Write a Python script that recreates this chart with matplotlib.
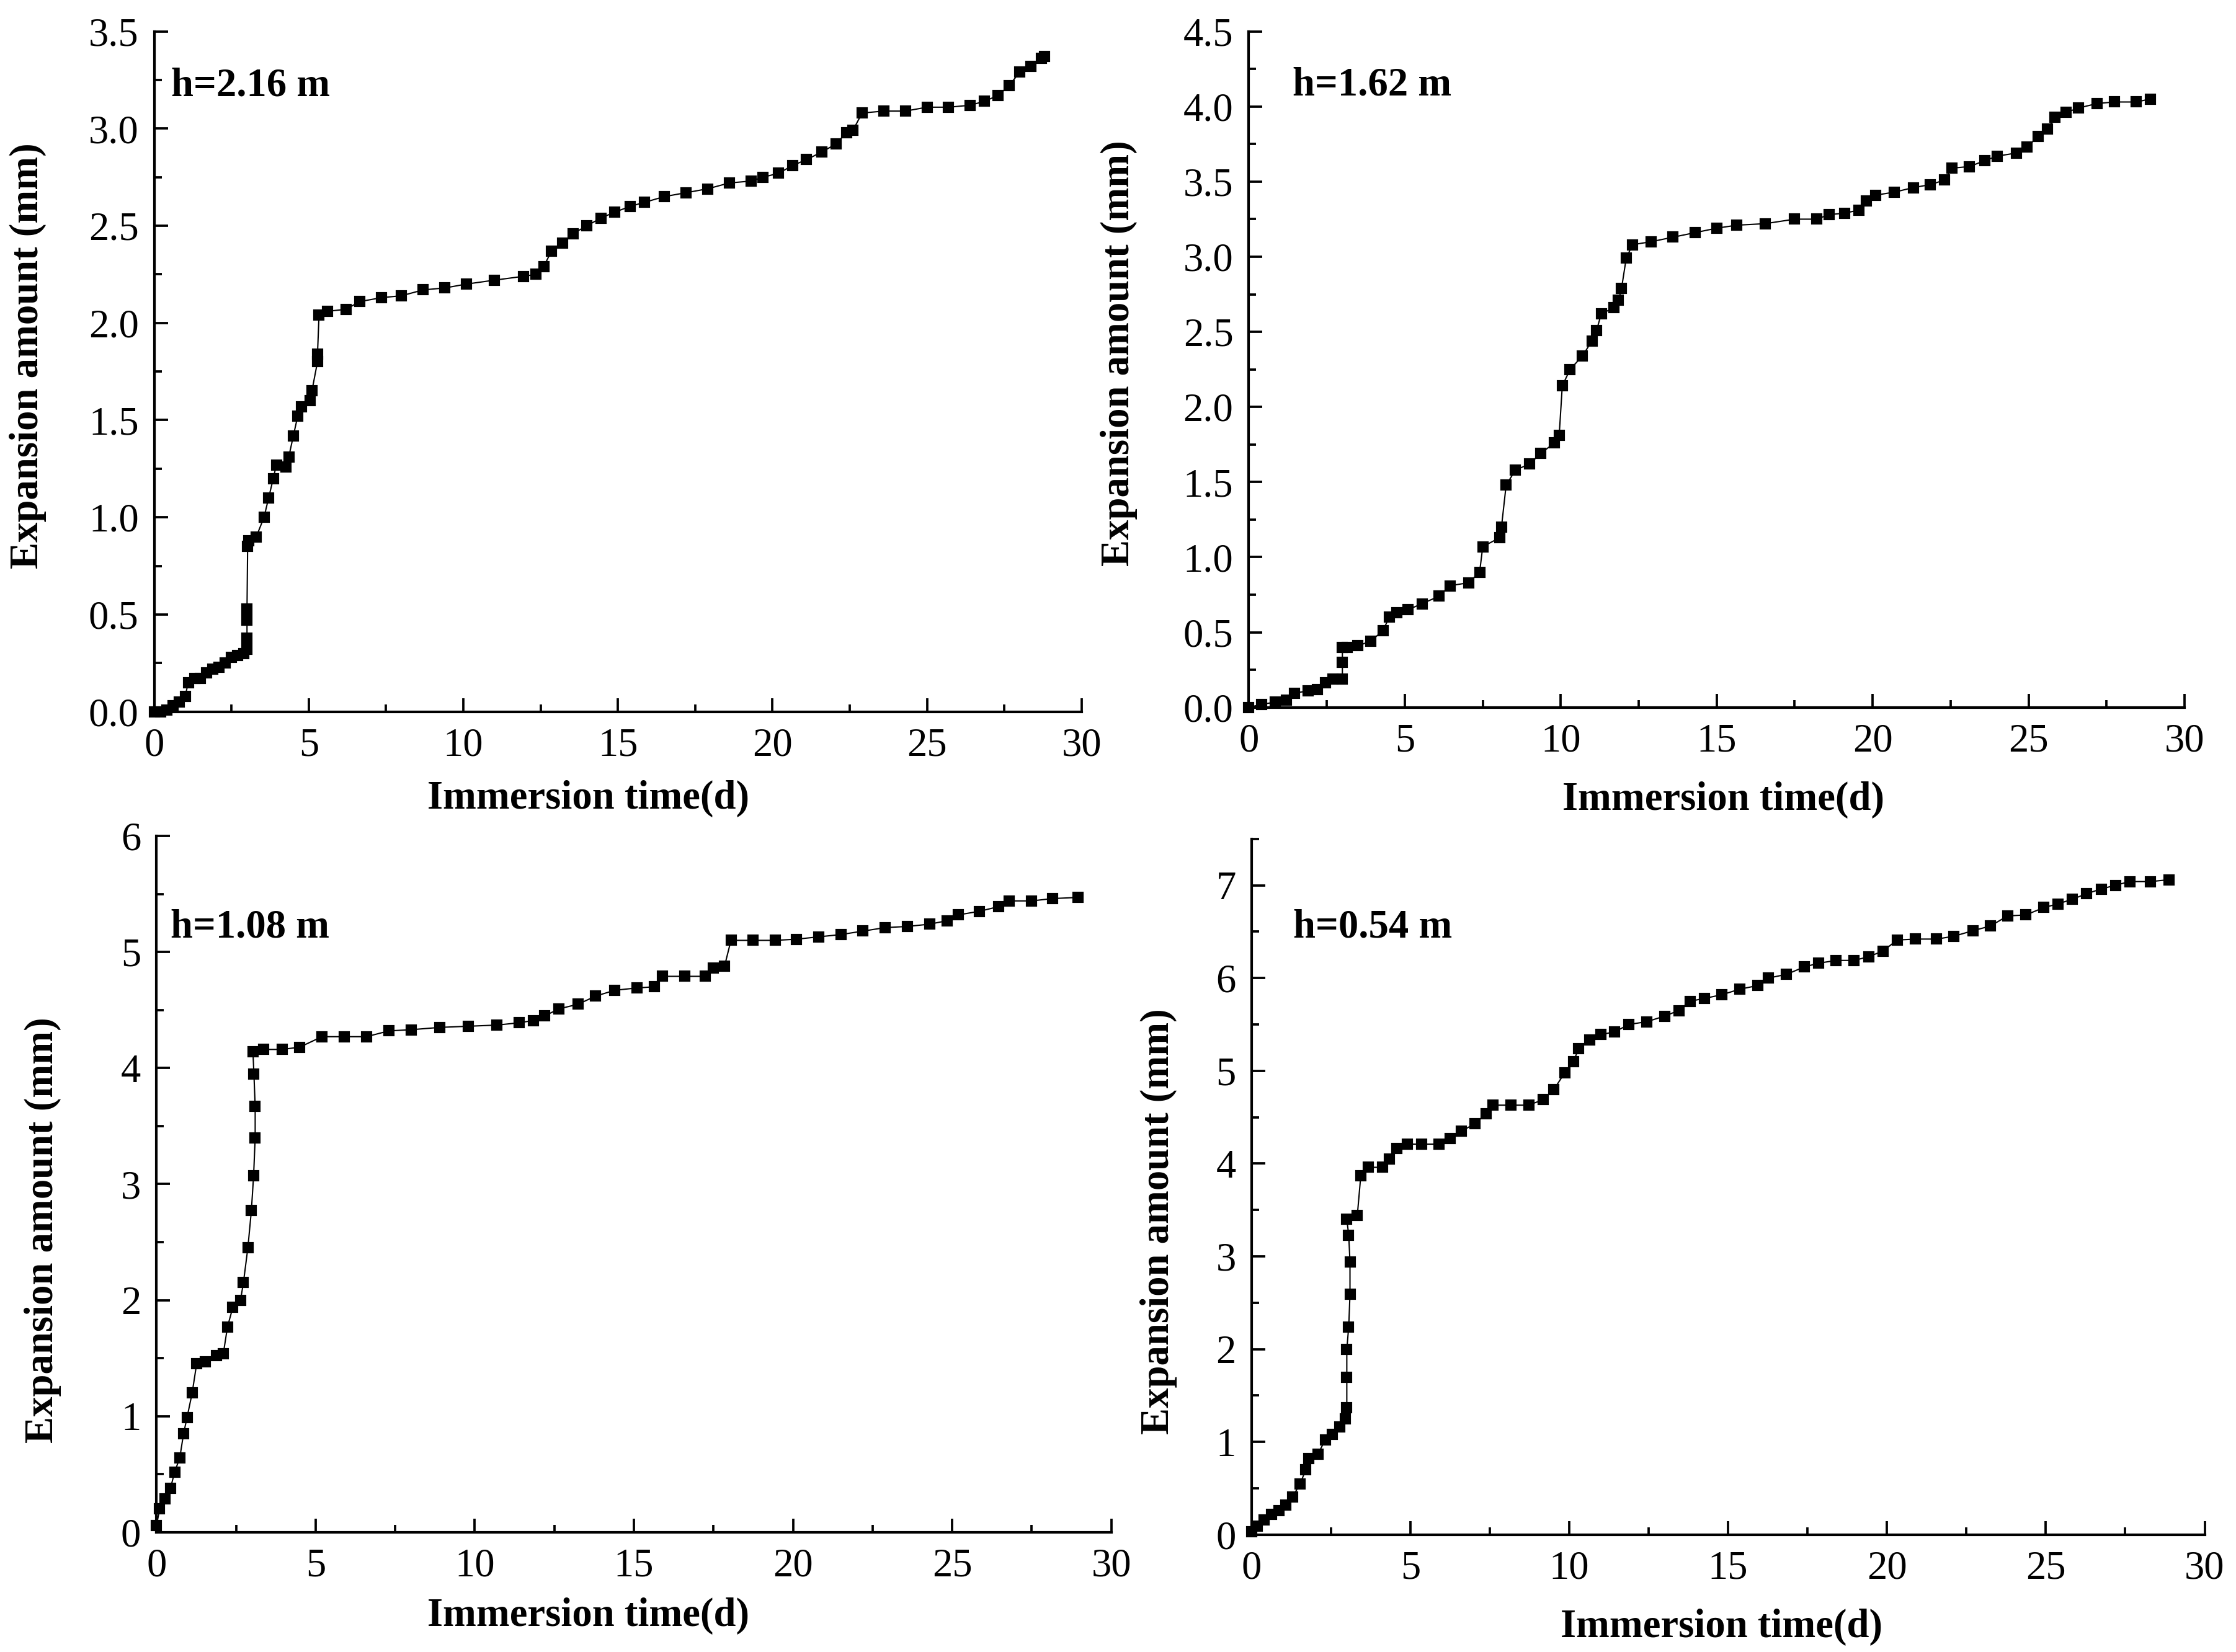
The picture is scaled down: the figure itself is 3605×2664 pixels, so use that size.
import matplotlib
matplotlib.use("Agg")
import matplotlib.pyplot as plt
from matplotlib.ticker import MultipleLocator, FormatStrFormatter

plt.rcParams['font.family'] = ['Liberation Serif', 'DejaVu Serif']

# ---------------- data ----------------
t_216 = [0, 0.2, 0.4, 0.6, 0.8, 1.0, 1.1, 1.3, 1.5, 1.7, 1.9, 2.1, 2.3, 2.5, 2.7, 2.9, 3.0, 3.0, 3.0, 3.0,
         3.02, 3.05, 3.3, 3.55, 3.7, 3.85, 3.95, 4.25, 4.35, 4.5, 4.64, 4.77, 5.05, 5.1, 5.28, 5.28, 5.33,
         5.6, 6.2, 6.65, 7.35, 8.0, 8.7, 9.4, 10.1, 11.0, 11.95, 12.35, 12.6, 12.85, 13.2, 13.55, 14.0,
         14.45, 14.9, 15.4, 15.85, 16.5, 17.2, 17.9, 18.6, 19.3, 19.7, 20.2, 20.65, 21.1, 21.6, 22.05,
         22.4, 22.6, 22.9, 23.6, 24.3, 25.0, 25.7, 26.4, 26.85, 27.3, 27.65, 28.0, 28.35, 28.7, 28.8]
y_216 = [0, 0, 0.01, 0.03, 0.05, 0.08, 0.15, 0.17, 0.17, 0.2, 0.22, 0.23, 0.25, 0.28, 0.29, 0.3, 0.32, 0.38,
         0.47, 0.53, 0.85, 0.88, 0.9, 1.0, 1.1, 1.2, 1.27, 1.26, 1.31, 1.42, 1.52, 1.57, 1.6, 1.65, 1.8, 1.84,
         2.04, 2.06, 2.07, 2.11, 2.13, 2.14, 2.17, 2.18, 2.2, 2.22, 2.24, 2.25, 2.29, 2.37, 2.41, 2.46, 2.5,
         2.54, 2.57, 2.6, 2.62, 2.65, 2.67, 2.69, 2.72, 2.73, 2.75, 2.77, 2.81, 2.84, 2.88, 2.92, 2.98, 2.99,
         3.08, 3.09, 3.09, 3.11, 3.11, 3.12, 3.14, 3.17, 3.22, 3.29, 3.32, 3.36, 3.37]

t_162 = [0, 0.4, 0.85, 1.2, 1.47, 1.9, 2.2, 2.45, 2.7, 3.0, 3.0, 3.0, 3.15, 3.5, 3.9, 4.3, 4.5, 4.75, 5.1,
         5.55, 6.1, 6.45, 7.05, 7.4, 7.5, 8.05, 8.1, 8.25, 8.55, 9.0, 9.35, 9.8, 9.95, 10.05, 10.3, 10.7,
         11.0, 11.15, 11.3, 11.7, 11.85, 11.95, 12.1, 12.3, 12.9, 13.6, 14.3, 15.0, 15.65, 16.55, 17.5,
         18.2, 18.6, 19.1, 19.55, 19.8, 20.1, 20.7, 21.3, 21.85, 22.3, 22.55, 23.1, 23.6, 24.0, 24.6,
         24.95, 25.3, 25.6, 25.85, 26.2, 26.6, 27.2, 27.75, 28.45, 28.9]
y_162 = [0, 0.02, 0.035, 0.05, 0.095, 0.11, 0.12, 0.165, 0.19, 0.19, 0.3, 0.4, 0.4, 0.41, 0.44, 0.51, 0.6,
         0.63, 0.65, 0.69, 0.74, 0.81, 0.83, 0.9, 1.07, 1.13, 1.2, 1.48, 1.58, 1.62, 1.69, 1.76, 1.81, 2.14,
         2.25, 2.34, 2.44, 2.51, 2.62, 2.66, 2.71, 2.79, 2.99, 3.08, 3.1, 3.13, 3.16, 3.19, 3.21, 3.22,
         3.25, 3.25, 3.28, 3.29, 3.31, 3.37, 3.41, 3.43, 3.46, 3.48, 3.51, 3.59, 3.6, 3.64, 3.67, 3.69,
         3.73, 3.8, 3.85, 3.93, 3.96, 3.99, 4.02, 4.03, 4.03, 4.05]

t_108 = [0, 0.1, 0.27, 0.44, 0.57, 0.73, 0.85, 0.96, 1.12, 1.26, 1.54, 1.88, 2.1, 2.23, 2.4, 2.64, 2.73,
         2.87, 2.98, 3.05, 3.1, 3.1, 3.06, 3.03, 3.37, 3.95, 4.5, 5.2, 5.9, 6.6, 7.3, 8.0, 8.9, 9.8, 10.7,
         11.4, 11.85, 12.2, 12.65, 13.25, 13.8, 14.4, 15.1, 15.65, 15.9, 16.6, 17.25, 17.5, 17.85, 18.05,
         18.75, 19.45, 20.1, 20.8, 21.5, 22.2, 22.9, 23.6, 24.3, 24.85, 25.2, 25.85, 26.45, 26.8, 27.5,
         28.15, 28.95]
y_108 = [0.06, 0.2, 0.29, 0.38, 0.52, 0.64, 0.85, 0.99, 1.2, 1.45, 1.47, 1.52, 1.54, 1.77, 1.94, 2.0, 2.15,
         2.45, 2.77, 3.07, 3.4, 3.67, 3.95, 4.14, 4.16, 4.16, 4.18, 4.27, 4.27, 4.27, 4.32, 4.33, 4.35,
         4.36, 4.37, 4.39, 4.41, 4.45, 4.51, 4.55, 4.62, 4.67, 4.69, 4.7, 4.79, 4.79, 4.79, 4.86, 4.88,
         5.1, 5.1, 5.1, 5.11, 5.13, 5.15, 5.18, 5.21, 5.22, 5.24, 5.27, 5.32, 5.35, 5.39, 5.44, 5.44,
         5.46, 5.47]

t_054 = [0, 0.18, 0.4, 0.63, 0.86, 1.08, 1.3, 1.53, 1.71, 1.8, 2.09, 2.32, 2.54, 2.77, 2.95, 3.0, 3.0,
         3.0, 3.06, 3.1, 3.1, 3.06, 3.0, 3.33, 3.44, 3.67, 4.12, 4.34, 4.57, 4.9, 5.36, 5.9, 6.25, 6.6,
         7.04, 7.38, 7.6, 8.17, 8.73, 9.18, 9.52, 9.86, 10.13, 10.3, 10.65, 10.99, 11.43, 11.88, 12.45,
         13.0, 13.45, 13.8, 14.25, 14.8, 15.37, 15.94, 16.27, 16.84, 17.4, 17.85, 18.4, 18.97, 19.42,
         19.87, 20.32, 20.9, 21.56, 22.1, 22.7, 23.25, 23.8, 24.37, 24.94, 25.39, 25.84, 26.29, 26.74,
         27.19, 27.64, 28.3, 28.88]
y_054 = [0.03, 0.09, 0.16, 0.22, 0.26, 0.32, 0.41, 0.55, 0.7, 0.82, 0.87, 1.02, 1.08, 1.16, 1.25, 1.37,
         1.7, 2.0, 2.24, 2.59, 2.94, 3.23, 3.4, 3.44, 3.87, 3.96, 3.96, 4.05, 4.16, 4.21, 4.21, 4.21, 4.27,
         4.35, 4.43, 4.54, 4.63, 4.63, 4.63, 4.69, 4.8, 4.98, 5.1, 5.24, 5.33, 5.39, 5.42, 5.5, 5.53, 5.59,
         5.65, 5.75, 5.78, 5.82, 5.88, 5.92, 6.0, 6.04, 6.12, 6.16, 6.19, 6.19, 6.23, 6.29, 6.41, 6.42,
         6.42, 6.45, 6.51, 6.56, 6.67, 6.68, 6.76, 6.80, 6.85, 6.91, 6.96, 7.0, 7.04, 7.04, 7.06]

labels = ['h=2.16 m', 'h=1.62 m', 'h=1.08 m', 'h=0.54 m']
xlabel = 'Immersion time(d)'
ylabel = 'Expansion amount (mm)'

# ---------------- layout ----------------
W, H = 3605, 2664
fig = plt.figure(figsize=(W / 300, H / 300), dpi=300)

panels = [
    dict(t=t_216, y=y_216, rect=[0.0690, 0.5692, 0.4147, 0.4118], ylim=(0, 3.5), major=0.5, minor=0.25,
         fmt='%.1f', lab=labels[0], labpos=(0.018, 0.92), ylpos=(-0.136, 0.523), xlpos=(0.468, -0.128)),
    dict(t=t_162, y=y_162, rect=[0.5585, 0.5718, 0.4185, 0.4092], ylim=(0, 4.5), major=0.5, minor=0.25,
         fmt='%.1f', lab=labels[1], labpos=(0.047, 0.92), ylpos=(-0.139, 0.524), xlpos=(0.507, -0.137)),
    dict(t=t_108, y=y_108, rect=[0.0700, 0.0725, 0.4270, 0.4215], ylim=(0, 6), major=1, minor=0.5,
         fmt='%d', lab=labels[2], labpos=(0.015, 0.869), ylpos=(-0.119, 0.434), xlpos=(0.452, -0.120)),
    dict(t=t_054, y=y_054, rect=[0.5597, 0.0710, 0.4263, 0.4212], ylim=(0, 7.5), major=1, minor=0.5,
         fmt='%d', lab=labels[3], labpos=(0.0435, 0.873), ylpos=(-0.0975, 0.45), xlpos=(0.493, -0.133)),
]

FS = 15.5
for p in panels:
    ax = fig.add_axes(p['rect'])
    ax.plot(p['t'], p['y'], color='black', lw=0.5, marker='s', ms=3.2, mec='black', mfc='black',
            clip_on=False)
    ax.set_xlim(0, 30)
    ax.set_ylim(*p['ylim'])
    ax.xaxis.set_major_locator(MultipleLocator(5))
    ax.xaxis.set_minor_locator(MultipleLocator(2.5))
    ax.yaxis.set_major_locator(MultipleLocator(p['major']))
    ax.yaxis.set_minor_locator(MultipleLocator(p['minor']))
    ax.yaxis.set_major_formatter(FormatStrFormatter(p['fmt']))
    ax.xaxis.set_major_formatter(FormatStrFormatter('%d'))
    for s in ['top', 'right']:
        ax.spines[s].set_visible(False)
    for s in ['left', 'bottom']:
        ax.spines[s].set_linewidth(1.0)
    ax.tick_params(which='major', direction='in', length=5.3, width=0.9, labelsize=FS, pad=6)
    ax.tick_params(which='minor', direction='in', length=2.9, width=0.9)
    ax.text(p['labpos'][0], p['labpos'][1], p['lab'], transform=ax.transAxes, fontsize=FS,
            fontweight='bold', ha='left', va='center')
    ax.text(p['ylpos'][0], p['ylpos'][1], ylabel, transform=ax.transAxes, fontsize=FS,
            fontweight='bold', ha='center', va='center', rotation=90)
    ax.text(p['xlpos'][0], p['xlpos'][1], xlabel, transform=ax.transAxes, fontsize=FS,
            fontweight='bold', ha='center', va='center')

fig.savefig('out.png', dpi=300)
